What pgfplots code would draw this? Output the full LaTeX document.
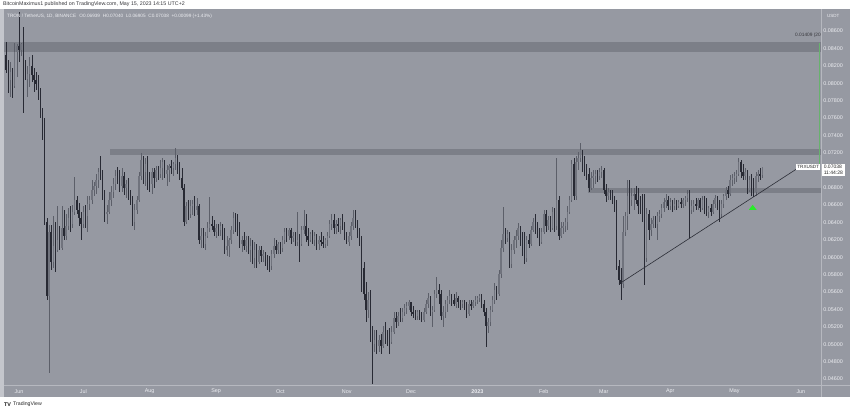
\documentclass[border=0pt]{standalone}
\usepackage{pgfplots}
\pgfplotsset{compat=1.18}
\usepackage{pgfplotstable}
\usepackage{fontspec}
\setmainfont{Liberation Sans}
\definecolor{bg}{RGB}{150,153,162}
\definecolor{lstrip}{RGB}{196,198,204}
\definecolor{band}{RGB}{124,127,136}
\definecolor{upc}{RGB}{112,115,125}
\definecolor{upw}{RGB}{92,95,105}
\definecolor{dnc}{RGB}{40,42,52}
\definecolor{txt}{RGB}{236,237,241}
\definecolor{sep}{RGB}{182,184,191}
\definecolor{trend}{RGB}{44,46,55}
\definecolor{hdr}{RGB}{55,55,60}
\definecolor{grn}{RGB}{104,178,110}
\definecolor{tri}{RGB}{40,235,40}
% daily candles, prices in thousandths of a USDT (70.38 = 0.07038), d = days after 1 Jun 2022
\pgfplotstableread{
d o h l c
-6 83.24 84.74 81.17 81.52
-5 81.52 82.67 78.87 80.37
-4 80.37 82.44 78.41 81.29
-3 81.29 81.75 78.30 79.68
-2 79.68 84.62 79.45 83.59
-1 83.59 84.51 80.71 84.28
0 84.28 88.18 82.44 83.82
1 83.82 84.62 83.13 84.51
2 84.51 86.46 76.57 80.94
3 80.94 82.67 80.37 80.48
4 80.48 81.98 78.41 81.06
5 81.06 83.01 79.56 81.98
6 81.98 83.24 80.14 80.94
7 80.94 81.75 78.99 80.37
8 80.37 81.29 79.22 79.91
9 79.91 80.94 78.07 78.99
10 78.99 79.45 76.00 76.34
11 76.34 77.15 73.47 75.54
12 75.54 76.00 63.70 64.05
13 64.05 64.51 55.08 55.54
14 55.54 63.70 46.69 62.90
15 62.90 63.70 58.53 59.45
16 59.45 64.74 58.76 61.29
17 61.29 64.05 58.30 60.83
18 60.83 65.89 60.60 61.98
19 61.98 63.59 60.83 61.06
20 61.06 65.89 60.83 63.36
21 63.36 65.43 61.98 62.44
22 62.44 64.97 61.98 63.59
23 63.59 65.66 63.13 64.51
24 64.51 65.89 62.90 63.82
25 63.82 66.00 63.36 65.20
26 65.20 69.22 64.85 66.57
27 66.57 67.03 64.97 65.43
28 65.43 66.23 63.59 64.51
29 64.51 65.20 61.98 63.82
30 63.82 65.89 63.36 65.20
31 65.20 66.00 63.36 64.74
32 64.74 67.03 62.90 66.11
33 66.11 67.03 65.43 66.57
34 66.57 68.87 66.11 67.72
35 67.72 68.64 67.03 68.18
36 68.18 69.56 67.26 68.87
37 68.87 70.25 67.95 69.79
38 69.79 71.63 68.87 69.56
39 69.56 70.02 66.57 67.03
40 67.03 67.72 64.05 64.97
41 64.97 66.00 63.82 65.20
42 65.20 67.49 64.97 66.57
43 66.57 68.18 65.89 67.49
44 67.49 69.10 66.80 68.41
45 68.41 70.02 67.72 69.33
46 69.33 70.37 68.41 68.87
47 68.87 70.02 67.49 68.18
48 68.18 70.25 67.49 69.33
49 69.33 69.79 67.15 67.95
50 67.95 68.87 66.80 68.41
51 68.41 69.10 66.57 67.15
52 67.15 67.72 66.00 66.80
53 66.80 67.03 63.59 64.05
54 64.05 66.11 63.13 65.43
55 65.43 67.03 64.97 66.57
56 66.57 69.79 66.34 69.33
57 69.33 71.98 68.87 71.17
58 71.17 71.63 68.41 69.79
59 69.79 71.40 68.18 70.71
60 70.71 71.63 67.72 68.87
61 68.87 69.79 67.49 68.41
62 68.41 70.25 67.26 69.79
63 69.79 70.25 67.95 69.10
64 69.10 70.48 68.64 70.02
65 70.02 70.48 68.87 69.56
66 69.56 71.17 69.10 70.25
67 70.25 71.40 68.87 70.94
68 70.94 71.17 69.10 69.56
69 69.56 70.60 68.18 70.02
70 70.02 70.71 68.64 70.48
71 70.48 71.17 69.56 70.25
72 70.25 70.94 69.33 70.71
73 70.71 72.55 70.02 71.40
74 71.40 71.75 69.56 70.02
75 70.02 70.94 68.87 69.10
76 69.10 70.25 67.72 67.95
77 67.95 68.41 63.59 64.05
78 64.05 66.34 63.82 65.89
79 65.89 66.57 64.28 64.97
80 64.97 66.57 64.51 65.89
81 65.89 66.57 64.85 66.11
82 66.11 67.03 64.74 65.43
83 65.43 66.80 64.85 65.89
84 65.89 66.11 61.52 61.98
85 61.98 63.36 61.06 62.44
86 62.44 63.36 61.06 61.52
87 61.52 62.90 60.83 62.44
88 62.44 64.05 62.21 63.36
89 63.36 66.92 62.90 63.82
90 63.82 64.74 63.13 63.59
91 63.59 64.28 62.44 62.90
92 62.90 63.82 62.21 63.36
93 63.36 63.82 62.44 63.13
94 63.13 64.05 62.44 63.59
95 63.59 63.82 61.98 62.90
96 62.90 63.36 60.37 60.83
97 60.83 62.44 60.14 61.29
98 61.29 62.21 60.02 61.98
99 61.98 63.59 61.52 63.13
100 63.13 65.20 62.67 64.51
101 64.51 65.08 62.90 63.82
102 63.82 64.97 62.44 63.36
103 63.36 64.05 61.06 61.52
104 61.52 62.44 60.60 61.98
105 61.98 62.90 60.83 61.29
106 61.29 62.44 60.60 61.98
107 61.98 62.44 60.37 60.83
108 60.83 62.21 59.45 61.29
109 61.29 61.98 59.22 59.91
110 59.91 61.75 58.76 60.83
111 60.83 61.52 58.76 59.45
112 59.45 61.29 59.22 60.83
113 60.83 61.29 59.45 60.14
114 60.14 60.83 59.45 60.37
115 60.37 60.60 58.99 59.68
116 59.68 60.25 58.53 59.45
117 59.45 60.14 58.30 58.99
118 58.99 60.83 58.53 60.37
119 60.37 62.21 59.91 61.29
120 61.29 61.98 60.37 60.83
121 60.83 61.75 60.37 61.52
122 61.52 61.75 60.37 61.06
123 61.06 62.44 60.60 61.98
124 61.98 63.36 61.52 62.90
125 62.90 63.36 61.75 62.44
126 62.44 63.36 61.98 63.13
127 63.13 63.36 61.52 62.21
128 62.21 62.90 61.75 62.44
129 62.44 62.90 61.29 61.75
130 61.75 65.20 61.29 61.98
131 61.98 62.67 59.45 61.52
132 61.52 63.59 61.29 63.13
133 63.13 65.43 62.67 63.59
134 63.59 64.97 61.75 62.44
135 62.44 63.36 61.29 61.98
136 61.98 62.90 61.75 62.67
137 62.67 63.13 61.52 61.98
138 61.98 62.90 61.29 62.44
139 62.44 62.67 60.83 61.52
140 61.52 62.44 60.83 61.98
141 61.98 62.90 61.29 61.75
142 61.75 62.44 61.06 61.52
143 61.52 62.21 61.06 61.98
144 61.98 62.90 61.29 62.44
145 62.44 64.28 62.21 63.82
146 63.82 64.97 63.13 64.28
147 64.28 64.97 62.67 63.36
148 63.36 64.28 62.67 63.82
149 63.82 64.51 62.90 63.59
150 63.59 64.51 62.67 64.28
151 64.28 64.97 63.13 63.59
152 63.59 64.05 61.98 62.44
153 62.44 62.90 61.52 61.75
154 61.75 62.90 61.29 62.44
155 62.44 64.05 61.98 63.59
156 63.59 65.43 63.13 64.51
157 64.51 65.43 63.36 63.82
158 63.82 64.28 62.21 62.90
159 62.90 63.36 61.29 61.98
160 61.98 62.44 56.00 58.76
161 58.76 59.45 55.08 55.77
162 55.77 57.15 52.55 53.93
163 53.93 55.99 53.01 55.08
164 55.08 56.23 50.25 50.71
165 50.71 52.09 45.43 50.02
166 50.02 51.63 49.10 50.48
167 50.48 51.63 48.87 49.79
168 49.79 51.06 49.10 50.48
169 50.48 51.17 48.87 49.79
170 49.79 52.09 49.56 51.40
171 51.40 52.55 50.02 50.94
172 50.94 51.63 49.79 50.48
173 50.48 51.86 48.87 50.25
174 50.25 52.09 50.02 51.40
175 51.40 53.70 51.17 53.01
176 53.01 53.70 51.86 52.55
177 52.55 53.70 52.09 53.24
178 53.24 54.16 52.55 53.01
179 53.01 54.16 52.55 53.70
180 53.70 54.62 53.24 54.16
181 54.16 54.85 53.47 54.39
182 54.39 55.08 53.93 54.85
183 54.85 54.85 53.24 53.70
184 53.70 54.39 53.01 53.47
185 53.47 53.93 52.78 53.24
186 53.24 53.93 52.78 53.70
187 53.70 53.93 52.78 53.01
188 53.01 53.70 52.55 52.78
189 52.78 54.16 52.55 53.70
190 53.70 55.08 53.47 54.62
191 54.62 55.88 54.16 55.31
192 55.31 55.54 53.24 53.70
193 53.70 54.39 51.98 53.93
194 53.93 56.23 53.70 55.77
195 55.77 57.72 55.31 56.23
196 56.23 56.92 54.62 55.77
197 55.77 56.23 52.78 53.24
198 53.24 54.39 51.98 53.70
199 53.70 55.08 53.01 54.62
200 54.62 55.54 53.70 55.08
201 55.08 56.23 54.62 55.54
202 55.54 55.77 54.39 55.08
203 55.08 55.77 54.39 54.62
204 54.62 55.99 54.16 55.31
205 55.31 55.54 54.16 54.85
206 54.85 55.08 53.93 54.62
207 54.62 55.08 54.16 54.85
208 54.85 55.08 53.93 54.39
209 54.39 54.85 53.01 53.47
210 53.47 55.08 53.24 54.62
211 54.62 55.08 53.93 54.39
212 54.39 55.08 54.16 54.85
213 54.85 55.54 54.39 55.08
214 55.08 55.54 54.62 55.31
215 55.31 55.77 54.85 55.54
216 55.54 55.77 54.16 54.62
217 54.62 55.08 53.24 53.70
218 53.70 54.16 49.68 52.09
219 52.09 53.01 51.29 52.55
220 52.55 54.39 52.09 53.93
221 53.93 55.54 53.70 55.08
222 55.08 57.03 54.62 56.23
223 56.23 56.69 55.08 55.77
224 55.77 58.53 55.54 58.07
225 58.07 61.98 57.61 61.06
226 61.06 65.77 60.60 62.67
227 62.67 63.36 61.52 62.21
228 62.21 63.13 61.75 62.67
229 62.67 62.90 58.76 59.22
230 59.22 61.52 58.76 60.83
231 60.83 62.44 60.37 61.98
232 61.98 63.13 61.06 62.44
233 62.44 63.93 61.98 63.36
234 63.36 63.59 61.29 61.75
235 61.75 62.90 60.14 61.52
236 61.52 62.90 59.22 59.91
237 59.91 62.44 59.45 61.98
238 61.98 62.67 61.06 61.52
239 61.52 63.59 61.29 63.13
240 63.13 64.51 62.90 64.05
241 64.05 64.97 62.67 63.59
242 63.59 64.05 62.21 62.67
243 62.67 63.36 61.29 61.75
244 61.75 63.36 61.52 62.90
245 62.90 65.43 62.67 64.97
246 64.97 65.43 62.90 63.59
247 63.59 64.74 63.13 64.28
248 64.28 64.74 62.90 63.36
249 63.36 65.77 63.13 65.20
250 65.20 65.66 62.90 63.59
251 63.59 71.40 63.13 66.57
252 66.57 67.03 61.98 62.44
253 62.44 64.05 62.21 63.36
254 63.36 64.05 62.67 63.59
255 63.59 64.51 62.90 64.05
256 64.05 65.89 63.13 65.20
257 65.20 67.03 64.97 66.57
258 66.57 71.17 66.34 70.71
259 70.71 71.40 66.57 67.03
260 67.03 71.63 66.57 70.94
261 70.94 72.09 70.02 71.40
262 71.40 73.13 70.94 72.32
263 72.32 72.32 69.79 70.48
264 70.48 71.63 69.33 70.02
265 70.02 70.71 68.87 69.56
266 69.56 70.25 67.49 67.95
267 67.95 69.79 67.72 69.10
268 69.10 70.02 67.95 69.33
269 69.33 70.02 68.41 69.56
270 69.56 70.02 68.64 69.33
271 69.33 70.25 68.87 69.79
272 69.79 70.48 69.10 70.02
273 70.02 70.25 67.26 67.72
274 67.72 68.41 66.34 67.03
275 67.03 67.95 66.57 67.49
276 67.49 67.72 66.57 67.26
277 67.26 67.72 66.11 66.80
278 66.80 67.03 65.20 65.66
279 65.66 66.57 58.53 58.99
280 58.99 59.68 56.80 57.38
281 57.38 58.76 55.08 56.92
282 56.92 64.74 56.46 62.90
283 62.90 65.20 62.44 64.74
284 64.74 68.87 63.13 67.03
285 67.03 68.87 64.97 66.57
286 66.57 67.95 65.89 67.03
287 67.03 67.95 65.43 67.26
288 67.26 68.18 66.11 66.57
289 66.57 67.95 64.97 65.89
290 65.89 67.03 64.97 65.43
291 65.43 67.26 64.05 64.51
292 64.51 67.26 56.80 59.91
293 59.91 65.66 59.45 64.97
294 64.97 65.43 61.98 63.13
295 63.13 64.51 62.44 63.82
296 63.82 64.74 63.36 64.28
297 64.28 64.74 63.36 63.82
298 63.82 65.20 61.98 64.74
299 64.74 65.43 64.05 64.97
300 64.97 66.11 64.51 65.66
301 65.66 66.80 65.20 66.34
302 66.34 67.26 65.66 66.57
303 66.57 67.03 65.43 65.89
304 65.89 66.80 65.43 66.34
305 66.34 66.57 65.20 65.89
306 65.89 66.80 65.43 66.11
307 66.11 66.57 65.43 65.89
308 65.89 66.57 65.66 66.34
309 66.34 66.80 65.66 66.11
310 66.11 66.80 65.66 66.57
311 66.57 67.03 65.89 66.80
312 66.80 67.72 66.34 67.26
313 67.26 67.72 62.21 65.43
314 65.43 66.57 64.97 65.89
315 65.89 66.57 65.20 66.11
316 66.11 66.80 65.43 65.89
317 65.89 66.80 65.43 66.57
318 66.57 66.80 65.20 65.66
319 65.66 67.03 65.43 66.57
320 66.57 67.03 64.97 65.43
321 65.43 66.80 64.74 65.20
322 65.20 65.89 64.51 65.66
323 65.66 66.11 64.74 65.20
324 65.20 66.57 64.97 66.11
325 66.11 67.15 65.66 66.80
326 66.80 67.03 65.43 65.89
327 65.89 66.57 64.05 64.97
328 64.97 66.57 64.51 66.11
329 66.11 67.26 65.66 67.03
330 67.03 68.07 66.57 67.72
331 67.72 68.18 66.80 67.26
332 67.26 69.45 67.03 68.87
333 68.87 69.56 68.18 69.10
334 69.10 69.79 68.41 69.33
335 69.33 70.02 68.64 69.56
336 69.56 71.40 69.33 70.94
337 70.94 71.17 69.10 69.79
338 69.79 70.71 68.87 69.33
339 69.33 70.25 68.87 69.79
340 69.79 70.02 67.26 67.72
341 67.72 69.33 67.49 68.87
342 68.87 69.56 67.03 68.41
343 68.41 69.10 66.92 67.49
344 67.49 69.79 67.03 69.33
345 69.33 70.02 68.64 69.56
346 69.56 70.25 68.87 69.39
347 69.39 70.40 69.05 70.38
}\candles
\pgfplotsset{candle/.style n args={3}{draw=none, mark=none, forget plot,
  restrict expr to domain={\thisrow{c}-\thisrow{o}}{#1},
  error bars/.cd, y dir=both, y explicit, error mark=none,
  error bar style={draw=#2, solid, line width=#3}}}
\begin{document}
\begin{tikzpicture}
\path[use as bounding box] (0,0) rectangle (850bp,-412bp);
\fill[white] (0,0) rectangle (850bp,-412bp);
\fill[lstrip] (0,-9bp) rectangle (4bp,-397bp);
\fill[bg] (4bp,-9bp) rectangle (850bp,-397bp);
\node[anchor=west, inner sep=0, font=\fontsize{5.3bp}{6bp}\selectfont, text=hdr] at (3bp,-4.6bp)
  {BitcoinMaximus1 published on TradingView.com, May 15, 2023 14:15 UTC+2};
\begin{axis}[
  at={(4bp,-10bp)}, anchor=north west,
  scale only axis, width=817bp, height=375bp,
  xmin=-7.0, xmax=374.4, ymin=45.31, ymax=88.41,
  axis line style={draw=none},
  major tick length=0pt, tick style={draw=none},
  ytick pos=right, yticklabel pos=right,
  ytick={46,48,...,86},
  yticklabels={0.04600,0.04800,0.05000,0.05200,0.05400,0.05600,0.05800,0.06000,0.06200,0.06400,0.06600,0.06800,{},0.07200,0.07400,0.07600,0.07800,0.08000,0.08200,0.08400,0.08600},
  yticklabel style={font=\fontsize{5.4bp}{6bp}\selectfont, text=txt, anchor=west, inner sep=2.2bp},
  xtick={0,30,61,92,122,153,183,214,245,273,304,334,365},
  xticklabels={Jun,Jul,Aug,Sep,Oct,Nov,Dec,\textbf{2023},Feb,Mar,Apr,May,Jun},
  xticklabel style={font=\fontsize{5.4bp}{6bp}\selectfont, text=txt, anchor=center, yshift=-6.2bp},
  clip=true,
]
% horizontal zones
\addplot[draw=none, fill=band, forget plot] coordinates {(-7,83.59) (374.4,83.59) (374.4,84.74) (-7,84.74)} -- cycle;
\addplot[draw=none, fill=band, forget plot] coordinates {(42.5,71.69) (374.4,71.69) (374.4,72.38) (42.5,72.38)} -- cycle;
\addplot[draw=none, fill=band, forget plot] coordinates {(265.6,67.38) (374.4,67.38) (374.4,67.90) (265.6,67.90)} -- cycle;
% up candles: wicks, then bodies
\addplot[candle={0:100}{upw}{0.55bp}]
  table[x=d, y expr={(\thisrow{h}+\thisrow{l})/2}, y error expr={(\thisrow{h}-\thisrow{l})/2}] {\candles};
\addplot[candle={0:100}{upc}{1.4bp}]
  table[x=d, y expr={(\thisrow{o}+\thisrow{c})/2}, y error expr={max(abs(\thisrow{c}-\thisrow{o})/2,0.05)}] {\candles};
% down candles
\addplot[candle={-100:-0.001}{dnc}{0.55bp}]
  table[x=d, y expr={(\thisrow{h}+\thisrow{l})/2}, y error expr={(\thisrow{h}-\thisrow{l})/2}] {\candles};
\addplot[candle={-100:-0.001}{dnc}{1.4bp}]
  table[x=d, y expr={(\thisrow{o}+\thisrow{c})/2}, y error expr={max(abs(\thisrow{c}-\thisrow{o})/2,0.05)}] {\candles};
% trend line
\addplot[trend, line width=0.6bp, forget plot] coordinates {(280.1,56.92) (363.7,70.25)};
% price range measure
\addplot[grn, line width=1.3bp, forget plot] coordinates {(373.6,70.53) (373.6,84.62)};
% green marker
\addplot[draw=none, fill=tri, forget plot] coordinates {(340.7,65.45) (344.3,65.45) (342.5,66.02)} -- cycle;
\end{axis}
\draw[sep, line width=0.7bp] (821.5bp,-9bp) -- (821.5bp,-397bp);
\draw[sep, line width=0.7bp] (4bp,-385bp) -- (850bp,-385bp);
\node[anchor=west, inner sep=0, font=\fontsize{4.7bp}{6bp}\selectfont, text=txt] at (7bp,-16.6bp)
  {TRON / TetherUS, 1D, BINANCE\hspace{2bp} O0.06939\hspace{1.5bp} H0.07040\hspace{1.5bp} L0.06905\hspace{1.5bp} C0.07038\hspace{1.5bp} +0.00099 (+1.43\%)};
\node[anchor=west, inner sep=0, font=\fontsize{4.5bp}{6bp}\selectfont, text=txt] at (827bp,-15.8bp) {USDT};
\node[anchor=east, inner sep=0, font=\fontsize{4.8bp}{6bp}\selectfont, text=hdr] at (821bp,-35.6bp) {0.01409 (20};
\node[anchor=east, fill=white, inner xsep=1.2bp, inner ysep=1.4bp, font=\fontsize{4.6bp}{5bp}\selectfont, text=black!85] at (820.5bp,-167.2bp) {TRXUSDT};
\node[anchor=north west, fill=white, inner xsep=1.6bp, inner ysep=1.2bp, align=left, font=\fontsize{5bp}{6.2bp}\selectfont, text=black!85] at (822bp,-163.5bp) {0.07038\\11:44:28};
\node[anchor=west, inner sep=0, font=\fontsize{5.4bp}{6bp}\selectfont\bfseries, text=black!90] at (4bp,-404.5bp) {TV};
\node[anchor=west, inner sep=0, font=\fontsize{5.2bp}{6bp}\selectfont, text=black!85] at (13bp,-404.5bp) {TradingView};
\end{tikzpicture}
\end{document}
